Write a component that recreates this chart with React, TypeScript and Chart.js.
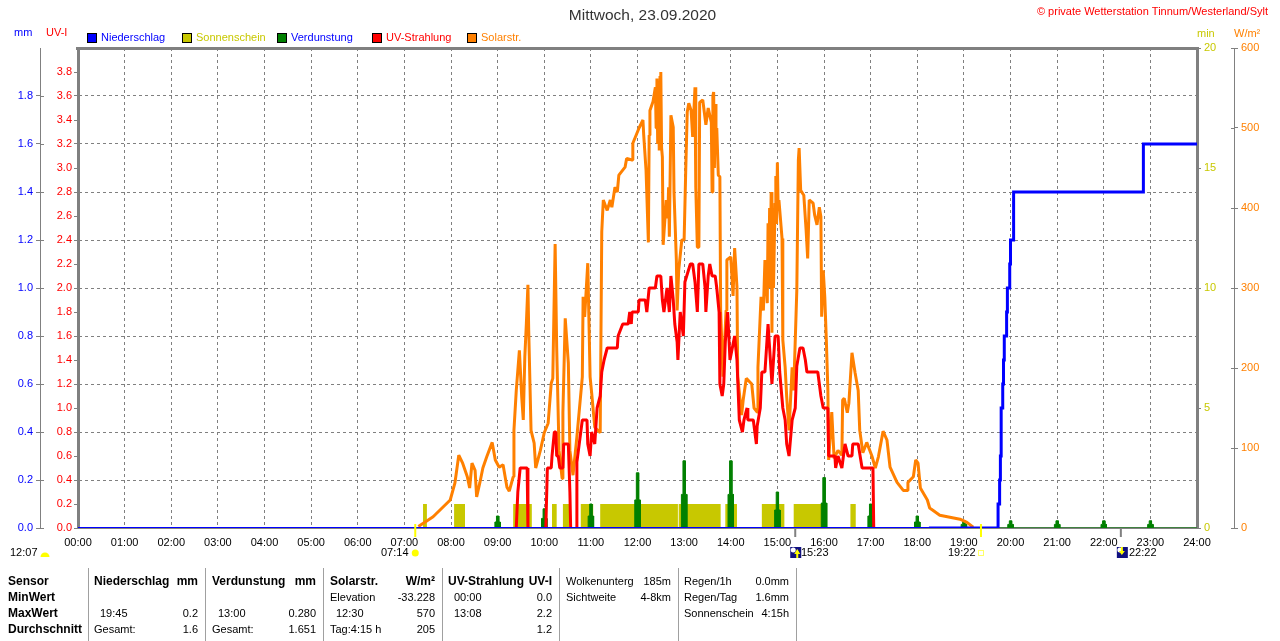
import React, { useEffect, useRef } from "react";
import { Chart, registerables } from "chart.js";

Chart.register(...registerables);

const FONT = '"Liberation Sans", Arial, sans-serif';
const BLUE = "#0000FF";
const OLIVE = "#C8C800";
const GREEN = "#008000";
const RED = "#FF0000";
const ORANGE = "#FF8000";
const GRAY = "#808080";

// Rain: accumulated mm, step changes at the given minute of day
const rainMinutes = [0, 1095, 1184, 1186, 1187, 1188, 1190, 1191, 1192, 1195, 1196, 1199, 1200, 1204, 1371, 1440];
const rainValues = [0, 0, 0.1, 0.2, 0.3, 0.5, 0.6, 0.7, 0.8, 0.9, 1.0, 1.1, 1.2, 1.4, 1.6, 1.6];

// Sunshine: minutes of day with sun, 1 min per interval bar
const sunStarts = [444, 484, 560, 610, 624, 647, 672, 773, 833, 880, 921, 994];
const sunEnds = [449, 498, 584, 616, 632, 663, 772, 827, 848, 909, 964, 1001];
const sunLevel = 1;

// Evaporation: hourly spikes in mm
const evapMinutes = [540, 600, 660, 720, 780, 840, 900, 960, 1020, 1080, 1140, 1200, 1260, 1320, 1380];
const evapPeak = [0.05, 0.08, 0.1, 0.23, 0.28, 0.28, 0.15, 0.21, 0.1, 0.05, 0.03, 0.03, 0.03, 0.03, 0.03];
const evapShoulder = [0.025, 0.04, 0.05, 0.117, 0.14, 0.14, 0.075, 0.104, 0.05, 0.025, 0.015, 0.015, 0.015, 0.015, 0.015];

// Solar radiation W/m²
const solarMinutes = [
  438, 457, 479, 485, 490, 495, 501, 504, 507, 511, 513, 517, 521, 526, 533, 537, 542, 547, 552, 555, 560, 561, 564, 568, 571, 573, 575, 577, 579, 580,
  583, 587, 589, 595, 600, 605, 609, 611, 614, 616, 619, 623, 624, 627, 631, 633, 637, 642, 649, 650, 652, 656, 659, 661, 665, 672, 674, 676, 681, 685,
  687, 691, 694, 696, 704, 706, 713, 714, 722, 727, 728, 731, 734, 735, 736, 740, 743, 744, 745, 746, 747, 748, 749, 750, 751, 752, 753, 757, 759, 760, 761, 763, 766, 767,
  770, 771, 773, 777, 780, 782, 784, 786, 789, 791, 794, 795, 797, 799, 800, 804, 808, 811, 815, 816, 817, 818, 819, 820, 821, 822, 823, 824, 826, 827, 830, 834, 835, 840, 843,
  845, 848, 849, 854, 856, 860, 867, 870, 874, 875, 879, 882, 884, 887, 888, 889, 890, 891, 892, 893, 894, 895, 897, 898, 899, 900, 901, 902, 906, 907, 910, 912, 915, 919, 921, 925, 927, 928,
  930, 934, 937, 939, 941, 946, 948, 951, 954, 956, 957, 959, 961, 963, 965, 966, 970, 973, 978, 983, 984, 986, 990, 992, 996, 1000, 1004, 1006, 1010, 1015,
  1022, 1026, 1030, 1036, 1041, 1045, 1054, 1062, 1067, 1068, 1075, 1078, 1081, 1084, 1093, 1096, 1109, 1135, 1144, 1152,
];
const solarValues = [
  2, 14, 35, 56, 91, 81, 64, 50, 81, 72, 39, 56, 75, 89, 107, 85, 76, 79, 51, 46, 64, 122, 172, 222, 164, 135, 214, 256, 304, 247,
  122, 106, 75, 97, 119, 131, 181, 187, 355, 226, 97, 62, 144, 262, 206, 97, 66, 114, 189, 289, 264, 331, 189, 169, 126, 119, 370, 410, 397, 410,
  401, 426, 420, 441, 451, 462, 460, 481, 500, 510, 491, 447, 357, 491, 522, 533, 551, 500, 562, 480, 555, 472, 565, 570, 475, 464, 354, 410, 387, 426, 364, 516, 501, 419,
  335, 272, 322, 360, 360, 444, 520, 531, 522, 489, 551, 426, 351, 351, 532, 535, 504, 525, 507, 420, 540, 545, 450, 530, 470, 500, 470, 441, 439, 272, 189, 272, 335, 339, 290,
  350, 301, 189, 141, 160, 187, 180, 150, 145, 201, 289, 272, 335, 281, 381, 300, 400, 330, 420, 244, 380, 300, 406, 440, 380, 457, 400, 410, 362, 235, 201, 164, 122, 201, 172, 297, 460, 475,
  422, 416, 372, 337, 410, 406, 391, 379, 401, 389, 264, 322, 289, 235, 172, 85, 145, 87, 97, 91, 160, 162, 144, 156, 219, 194, 172, 122, 94, 107,
  89, 75, 89, 121, 110, 76, 57, 47, 47, 57, 64, 85, 81, 50, 35, 25, 16, 11, 7, 1,
];

// UV index; null marks the gaps where nothing is drawn
const uvMinutes = [
  564, 566, 569, 578, 579, 590, 602, 604, 609, 610, 613, 615, 616, 618, 620, 624, 625, 631, 633, 634, 638, 641, 642, 646, 649, 655, 656, 659, 661, 665,
  668, 672, 674, 677, 681, 694, 695, 701, 708, 710, 712, 713, 721, 722, 730, 732, 735, 743, 745, 750, 752, 754, 758, 761, 763, 766, 768, 771, 772, 775,
  779, 781, 788, 791, 794, 797, 799, 804, 807, 808, 811, 813, 816, 820, 822, 825, 826, 829, 831, 833, 836, 839, 845, 848, 851, 855, 857, 861, 862, 869,
  873, 874, 878, 880, 884, 888, 891, 893, 897, 901, 903, 907, 910, 912, 915, 919, 923, 925, 929, 933, 936, 938, 952, 956, 959, 965, 966, 974, 975, 978,
  983, 987, 991, 996, 997, 1004, 1009, 1023, 1024,
];
const uvValues: (number | null)[] = [
  0, 0.3, 0.5, 0.5, 0, null, 0, 0.5, 0.5, 0.6, 0.8, 0.8, 0.6, 0.6, 0.5, 0.5, 0.7, 0.7, 0.3, 0, null, 0, 0.55, 0.75, 0.9, 0.9, 0.7, 0.6, 0.8, 0.7,
  1.0, 1.1, 1.3, 1.4, 1.5, 1.5, 1.6, 1.7, 1.7, 1.8, 1.7, 1.8, 1.8, 1.9, 1.9, 1.8, 2.0, 2.0, 2.1, 2.1, 1.9, 1.8, 2.0, 1.8, 2.1, 1.9, 1.7, 1.55, 1.4, 1.8,
  1.6, 2.05, 2.2, 2.2, 2.05, 1.8, 2.2, 2.2, 2.0, 1.8, 2.1, 2.2, 2.1, 2.1, 2.0, 1.8, 1.2, 1.1, 1.2, 1.55, 1.8, 1.4, 1.6, 1.4, 0.9, 0.8, 0.9, 1.0, 0.9, 0.9,
  0.7, 0.85, 1.0, 1.3, 1.3, 1.7, 1.4, 1.2, 1.6, 1.6, 1.3, 1.0, 0.9, 0.7, 0.6, 0.9, 1.0, 1.35, 1.5, 1.5, 1.4, 1.3, 1.3, 1.1, 1.0, 1.0, 0.6, 0.6, 0.5, 0.6,
  0.5, 0.7, 0.6, 0.6, 0.7, 0.7, 0.5, 0.5, 0,
];

const legendNames = ["Niederschlag", "Sonnenschein", "Verdunstung", "UV-Strahlung", "Solarstr."];
const legendBoxColors = [BLUE, OLIVE, GREEN, RED, ORANGE];
const legendTextColors = [BLUE, OLIVE, BLUE, RED, ORANGE];

const sunriseMinute = 434;
const sunsetMinute = 1162;
const moonriseMinute = 923;
const moonsetMinute = 1342;

type Cell = [string, number, number, boolean?, boolean?]; // text, x, y, bold, right-aligned
const R1 = 582, R2 = 598, R3 = 614, R4 = 630;
const statCells: Cell[] = [
  ["Sensor", 8, R1, true], ["MinWert", 8, R2, true], ["MaxWert", 8, R3, true], ["Durchschnitt", 8, R4, true],
  ["Niederschlag", 94, R1, true], ["mm", 198, R1, true, true], ["19:45", 100, R3], ["0.2", 198, R3, false, true], ["Gesamt:", 94, R4], ["1.6", 198, R4, false, true],
  ["Verdunstung", 212, R1, true], ["mm", 316, R1, true, true], ["13:00", 218, R3], ["0.280", 316, R3, false, true], ["Gesamt:", 212, R4], ["1.651", 316, R4, false, true],
  ["Solarstr.", 330, R1, true], ["W/m²", 435, R1, true, true], ["Elevation", 330, R2], ["-33.228", 435, R2, false, true], ["12:30", 336, R3], ["570", 435, R3, false, true], ["Tag:4:15 h", 330, R4], ["205", 435, R4, false, true],
  ["UV-Strahlung", 448, R1, true], ["UV-I", 552, R1, true, true], ["00:00", 454, R2], ["0.0", 552, R2, false, true], ["13:08", 454, R3], ["2.2", 552, R3, false, true], ["1.2", 552, R4, false, true],
  ["Wolkenunterg", 566, R1], ["185m", 671, R1, false, true], ["Sichtweite", 566, R2], ["4-8km", 671, R2, false, true],
  ["Regen/1h", 684, R1], ["0.0mm", 789, R1, false, true], ["Regen/Tag", 684, R2], ["1.6mm", 789, R2, false, true], ["Sonnenschein", 684, R3], ["4:15h", 789, R3, false, true],
];
const statDividers = [88, 205, 323, 442, 559, 678, 796];

const zip = (xs: number[], ys: (number | null)[]) => xs.map((x, i) => ({ x, y: ys[i] }));

const sunPoints = sunStarts.flatMap((s, i) => [
  { x: s, y: 0 }, { x: s, y: sunLevel }, { x: sunEnds[i], y: sunLevel }, { x: sunEnds[i], y: 0 },
]);

const evapPoints = [
  { x: 0, y: 0 },
  ...evapMinutes.flatMap((m, i) => [
    { x: m - 3.5, y: 0 }, { x: m - 3.5, y: evapShoulder[i] }, { x: m - 1.5, y: evapShoulder[i] }, { x: m - 1.5, y: evapPeak[i] },
    { x: m + 1.5, y: evapPeak[i] }, { x: m + 1.5, y: evapShoulder[i] }, { x: m + 3.5, y: evapShoulder[i] }, { x: m + 3.5, y: 0 },
  ]),
  { x: 1440, y: 0 },
];

const clock = (m: number) => `${String(Math.floor(m / 60)).padStart(2, "0")}:${String(m % 60).padStart(2, "0")}`;

const sideAxis = (position: string, weight: number, max: number, step: number, color: string, width: number, opts: any = {}) => ({
  type: "linear",
  position,
  weight,
  min: 0,
  max,
  afterFit: (s: any) => { s.width = width; },
  border: { color: GRAY, width: opts.borderWidth ?? 1, dash: [3, 3] },
  grid: {
    drawOnChartArea: !!opts.gridLines,
    color: GRAY,
    lineWidth: 1,
    tickColor: (c: any) => (opts.hideTop && c.tick && c.tick.value >= max ? "rgba(0,0,0,0)" : GRAY),
    tickLength: 4,
    tickWidth: 1,
  },
  ticks: {
    stepSize: step,
    color,
    padding: opts.pad ?? 3,
    autoSkip: false,
    font: { family: FONT, size: 11 },
    callback: (v: number) => (opts.hideTop && v >= max ? "" : v.toFixed(opts.digits ?? 0)),
  },
});

const annotations = {
  id: "annotations",
  afterDraw(chart: any) {
    const { ctx, chartArea: a, scales } = chart;
    const x = scales.x;
    const text = (s: string, px: number, py: number, color = "#000", font = `11px ${FONT}`, align: CanvasTextAlign = "left") => {
      ctx.fillStyle = color; ctx.font = font; ctx.textAlign = align; ctx.textBaseline = "middle"; ctx.fillText(s, px, py);
    };
    ctx.save();
    // plot frame top
    ctx.fillStyle = GRAY;
    ctx.fillRect(a.left - 2, a.top - 1, a.right - a.left + 4, 3);
    // tick stubs on the free-standing axes
    for (const [id, px] of [["yMM", 41], ["yW", 1231]] as [string, number][]) {
      const s = scales[id];
      s.ticks.forEach((t: any) => {
        if (id === "yMM" && t.value >= s.max) return;
        ctx.fillRect(px, Math.round(s.getPixelForValue(t.value)), 3, 1);
      });
    }
    // headings
    text("Mittwoch, 23.09.2020", 642.5, 15.5, "#333", `15.5px ${FONT}`, "center");
    text("© private Wetterstation Tinnum/Westerland/Sylt", 1268, 12, RED, `11px ${FONT}`, "right");
    text("mm", 14, 33, BLUE);
    text("UV-I", 46, 33, RED);
    text("min", 1197, 34, OLIVE);
    text("W/m²", 1234, 34, ORANGE);
    // legend
    legendNames.forEach((name, i) => {
      const bx = 87 + i * 95;
      ctx.fillStyle = legendBoxColors[i];
      ctx.fillRect(bx, 33, 10, 10);
      ctx.strokeStyle = "#000"; ctx.lineWidth = 1;
      ctx.strokeRect(bx + 0.5, 33.5, 9, 9);
      text(name, bx + 14, 38, legendTextColors[i]);
    });
    // sun and moon markers
    const sr = x.getPixelForValue(sunriseMinute), ss = x.getPixelForValue(sunsetMinute);
    const mr = x.getPixelForValue(moonriseMinute), ms = x.getPixelForValue(moonsetMinute);
    ctx.fillStyle = "#FFFF00";
    ctx.fillRect(sr - 1, 524, 2, 13);
    ctx.fillRect(ss - 1, 524, 2, 13);
    ctx.fillStyle = GRAY;
    ctx.fillRect(mr - 1, 528, 2, 9);
    ctx.fillRect(ms - 1, 528, 2, 9);
    text("12:07", 10, 553);
    ctx.fillStyle = "#FFFF00";
    ctx.beginPath(); ctx.arc(45, 557, 4.5, Math.PI, 0); ctx.fill();
    text(clock(sunriseMinute), 381, 553);
    ctx.fillStyle = "#FFFF00";
    ctx.beginPath(); ctx.arc(sr, 553, 3.5, 0, Math.PI * 2); ctx.fill();
    text(clock(sunsetMinute), 948, 553);
    ctx.strokeStyle = "#FFFF66"; ctx.lineWidth = 1;
    ctx.strokeRect(Math.round(ss) - 2.5, 550.5, 5, 5);
    const moon = (px: number, up: boolean) => {
      ctx.fillStyle = "#101080"; ctx.fillRect(px, 547, 11, 11);
      ctx.fillStyle = "#FFFFFF"; ctx.beginPath(); ctx.arc(px + 3, 550, 2.5, 0, Math.PI * 2); ctx.fill();
      ctx.fillStyle = "#FFFF00"; ctx.beginPath();
      if (up) { ctx.moveTo(px + 7, 549); ctx.lineTo(px + 10, 554); ctx.lineTo(px + 8, 554); ctx.lineTo(px + 8, 558); ctx.lineTo(px + 6, 558); ctx.lineTo(px + 6, 554); ctx.lineTo(px + 4, 554); }
      else { ctx.moveTo(px + 5, 555); ctx.lineTo(px + 2, 551); ctx.lineTo(px + 4, 551); ctx.lineTo(px + 4, 547); ctx.lineTo(px + 6, 547); ctx.lineTo(px + 6, 551); ctx.lineTo(px + 8, 551); }
      ctx.closePath(); ctx.fill();
    };
    moon(mr - 5, true);
    text(clock(moonriseMinute), 801, 553);
    moon(ms - 4, false);
    text(clock(moonsetMinute), 1129, 553);
    // stats table
    ctx.fillStyle = "#A0A0A0";
    statDividers.forEach((d) => ctx.fillRect(d, 568, 1, 73));
    statCells.forEach(([s, px, py, bold, right]) =>
      text(s, px, py, "#000", bold ? `bold 12px ${FONT}` : `11px ${FONT}`, right ? "right" : "left")
    );
    ctx.restore();
  },
};

export default function App() {
  const ref = useRef<HTMLCanvasElement>(null);
  useEffect(() => {
    const base = { pointRadius: 0, pointHoverRadius: 0, tension: 0, spanGaps: false };
    const chart = new Chart(ref.current as any, {
      type: "line",
      data: {
        datasets: [
          { ...base, label: "Sonnenschein", data: sunPoints, yAxisID: "yMin", borderWidth: 0, borderColor: OLIVE, backgroundColor: OLIVE, fill: "origin", order: 5 },
          { ...base, label: "Verdunstung", data: evapPoints, yAxisID: "yMM", borderWidth: 1, borderColor: GREEN, backgroundColor: GREEN, fill: "origin", order: 4 },
          { ...base, label: "Solarstr.", data: zip(solarMinutes, solarValues), yAxisID: "yW", borderWidth: 3, borderColor: ORANGE, borderJoinStyle: "bevel", order: 3 },
          { ...base, label: "UV-Strahlung", data: zip(uvMinutes, uvValues), yAxisID: "yUV", borderWidth: 3, borderColor: RED, borderJoinStyle: "bevel", order: 2 },
          {
            ...base, label: "Niederschlag", data: zip(rainMinutes, rainValues), yAxisID: "yMM", borderWidth: 3, borderColor: BLUE, stepped: true, order: 1,
            segment: { borderWidth: (c: any) => (c.p0.parsed.x < rainMinutes[1] ? 2 : 3) },
          },
        ],
      } as any,
      options: {
        animation: false,
        responsive: false,
        devicePixelRatio: 1,
        layout: { padding: { top: 48, bottom: 93, left: 0, right: 0 } },
        plugins: { legend: { display: false }, title: { display: false }, tooltip: { enabled: false } },
        events: [],
        scales: {
          x: {
            type: "linear",
            min: 0,
            max: 1440,
            afterFit: (s: any) => { s.height = 20; },
            border: { color: GRAY, width: 2, dash: [3, 3] },
            grid: { color: GRAY, lineWidth: 1, drawTicks: false },
            ticks: {
              stepSize: 60,
              autoSkip: false,
              maxRotation: 0,
              padding: 8,
              color: "#000",
              font: { family: FONT, size: 11 },
              callback: (v: number) => clock(v),
            },
          },
          yMM: sideAxis("left", 1, 2, 0.2, BLUE, 40, { digits: 1, hideTop: true, gridLines: true, pad: 3 }),
          yUV: sideAxis("left", 0, 4, 0.2, RED, 38, { digits: 1, hideTop: true, borderWidth: 3, pad: 2 }),
          yMin: sideAxis("right", 0, 20, 5, OLIVE, 37, { borderWidth: 3 }),
          yW: sideAxis("right", 1, 600, 100, ORANGE, 46),
        },
      } as any,
      plugins: [annotations],
    });
    return () => chart.destroy();
  }, []);
  return (
    <div style={{ position: "fixed", left: 0, top: 0, width: 1280, height: 641, background: "#fff" }}>
      <canvas ref={ref} width={1280} height={641} style={{ display: "block" }} />
    </div>
  );
}
